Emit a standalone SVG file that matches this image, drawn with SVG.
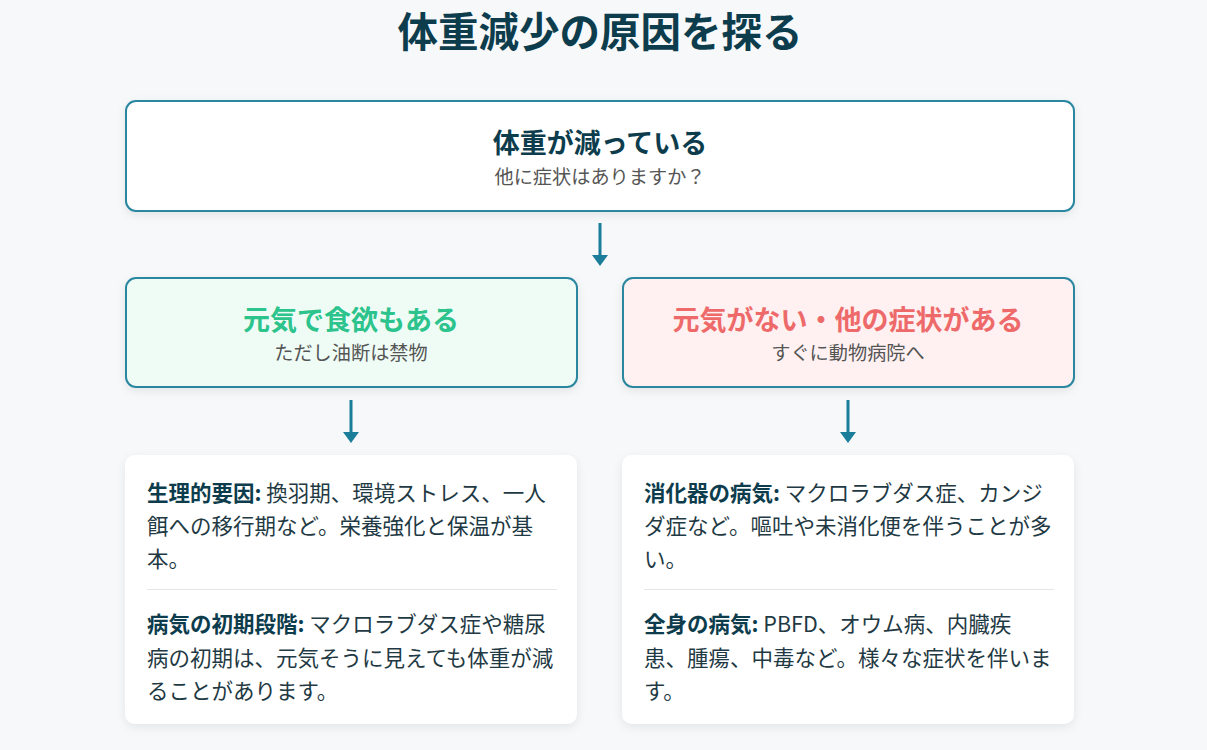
<svg xmlns="http://www.w3.org/2000/svg" width="1207" height="750" viewBox="0 0 1207 750">
<defs>
<style>
text{font-family:"Noto Sans CJK JP","Noto Sans",sans-serif;}
.title{font-size:40.5px;font-weight:700;fill:#0d3d4d;}
.box{stroke:#2a879f;stroke-width:2;}
.h{font-size:27px;font-weight:700;text-anchor:middle;}
.sub{font-size:19.2px;fill:#555;text-anchor:middle;}
.card{fill:#fff;}
.t{font-size:21.5px;fill:#1f3a44;}
.b{font-weight:700;fill:#0d3d4d;}
.div{stroke:#e3e7ea;stroke-width:1.2;}
.arrow{stroke:#1a7d9a;stroke-width:3;fill:none;}
.head{fill:#1a7d9a;}
</style>
<filter id="sh" x="-10%" y="-10%" width="120%" height="130%">
<feDropShadow dx="0" dy="3" stdDeviation="5" flood-color="#000" flood-opacity="0.08"/>
</filter>
</defs>
<rect width="1207" height="750" fill="#f6f8fa"/>
<text class="title" x="600" y="47" text-anchor="middle">体重減少の原因を探る</text>

<g id="node-top">
<rect class="box" x="126" y="101" width="948" height="110" rx="10" fill="#fff" filter="url(#sh)"/>
<text class="h" x="600" y="153" fill="#0d3d4d">体重が減っている</text>
<text class="sub" x="600" y="184">他に症状はありますか？</text>
</g>

<g id="node-left">
<rect class="box" x="126" y="278" width="451" height="109" rx="10" fill="#effcf6" filter="url(#sh)"/>
<text class="h" x="351" y="330" fill="#2cc38c">元気で食欲もある</text>
<text class="sub" x="351" y="360">ただし油断は禁物</text>
</g>

<g id="node-right">
<rect class="box" x="623" y="278" width="451" height="109" rx="10" fill="#fff1f1" filter="url(#sh)"/>
<text class="h" x="848" y="330" fill="#ee6a6a">元気がない・他の症状がある</text>
<text class="sub" x="848" y="360">すぐに動物病院へ</text>
</g>

<g id="connectors">
<line class="arrow" x1="600" y1="223" x2="600" y2="256"/>
<path class="head" d="M592 255 L608 255 L600 266 Z"/>
<line class="arrow" x1="351" y1="400" x2="351" y2="433"/>
<path class="head" d="M343 432 L359 432 L351 443 Z"/>
<line class="arrow" x1="848" y1="400" x2="848" y2="433"/>
<path class="head" d="M840 432 L856 432 L848 443 Z"/>
</g>

<g id="card-left">
<rect class="card" x="125" y="455" width="452" height="269" rx="10" filter="url(#sh)"/>
<text class="t" x="147" y="501"><tspan class="b">生理的要因:</tspan> 換羽期、環境ストレス、一人</text>
<text class="t" x="147" y="534">餌への移行期など。栄養強化と保温が基</text>
<text class="t" x="147" y="567">本。</text>
<line class="div" x1="147" y1="589.5" x2="557" y2="589.5"/>
<text class="t" x="147" y="632"><tspan class="b">病気の初期段階:</tspan> マクロラブダス症や糖尿</text>
<text class="t" x="147" y="666">病の初期は、元気そうに見えても体重が減</text>
<text class="t" x="147" y="699">ることがあります。</text>
</g>

<g id="card-right">
<rect class="card" x="622" y="455" width="452" height="269" rx="10" filter="url(#sh)"/>
<text class="t" x="644" y="501"><tspan class="b">消化器の病気:</tspan> マクロラブダス症、カンジ</text>
<text class="t" x="644" y="534">ダ症など。嘔吐や未消化便を伴うことが多</text>
<text class="t" x="644" y="567">い。</text>
<line class="div" x1="644" y1="589.5" x2="1054" y2="589.5"/>
<text class="t" x="644" y="632"><tspan class="b">全身の病気:</tspan> PBFD、オウム病、内臓疾</text>
<text class="t" x="644" y="666">患、腫瘍、中毒など。様々な症状を伴いま</text>
<text class="t" x="644" y="699">す。</text>
</g>
</svg>
